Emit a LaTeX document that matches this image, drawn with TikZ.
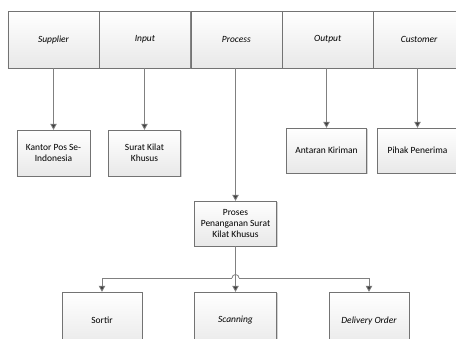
\documentclass[tikz,border=0pt]{standalone}
\usepackage{fontspec}
\setmainfont{Carlito}
\usetikzlibrary{arrows.meta, positioning, shadows}
\tikzset{
  head/.style={
    draw=black!55,
    rectangle,
    top color=white,
    bottom color=black!9,
    minimum height=57bp,
    minimum width=91bp,
    inner sep=0pt,
    align=center,
    font=\fontsize{9.5}{11}\selectfont\itshape
  },
  item/.style={
    draw=black!55,
    rectangle,
    top color=white,
    bottom color=black!9,
    drop shadow={shadow xshift=1bp, shadow yshift=-1bp, fill=black!35},
    minimum height=45bp,
    inner sep=0pt,
    align=center,
    font=\fontsize{9.5}{11.5}\selectfont
  },
  arrow/.style={
    -{Triangle[length=6bp,width=6.5bp,fill=black!75]}, draw=black!50, line width=0.8bp}
}
\begin{document}
\begin{tikzpicture}[x=1bp, y=1bp]
\useasboundingbox[fill=white] (0,0) rectangle (456,338);

% --- SIPOC header row ---
\node[head] (supplier) at (53.5,298.5) {Supplier};
\node[head, right=0pt of supplier] (input)    {Input};
\node[head, right=0pt of input]    (process)  {Process};
\node[head, right=0pt of process]  (output)   {Output};
\node[head, right=0pt of output]   (customer) {Customer};

% --- second row ---
\node[item, minimum width=73bp, minimum height=46bp] (kantor) at (53.5,185) {Kantor Pos Se-\\Indonesia};
\node[item, minimum width=72bp, minimum height=46bp] (surat)  at (144.5,185) {Surat Kilat\\Khusus};
\node[item, minimum width=80bp] (antaran) at (326.5,187.5) {Antaran Kiriman};
\node[item, minimum width=80bp] (pihak)   at (417.5,187.5) {Pihak Penerima};
\node[item, minimum width=82bp] (proses)  at (235.5,114.5) {Proses\\Penanganan Surat\\Kilat Khusus};

% --- process steps ---
\node[item, minimum width=80bp, minimum height=57bp] (sortir)   at (102,17.5) {Sortir};
\node[item, minimum width=82bp, minimum height=57bp] (scanning) at (235.5,17.5) {\itshape Scanning};
\node[item, minimum width=80bp, minimum height=57bp] (delivery) at (369,17.5) {\itshape Delivery Order};

\coordinate (branch) at (235.5,60);

% --- connectors ---
\draw[arrow] (kantor.north |- supplier.south)  -- (kantor.north);
\draw[arrow] (surat.north |- input.south)      -- (surat.north);
\draw[arrow] (proses.north |- process.south)   -- (proses.north);
\draw[arrow] (antaran.north |- output.south)   -- (antaran.north);
\draw[arrow] (pihak.north |- customer.south)   -- (pihak.north);
\draw[arrow] (proses.south) -- (scanning.north);
\draw[arrow] (branch) ++(-3.5,0) -- (sortir.north |- branch) -- (sortir.north);
\draw[arrow] (branch) ++(3.5,0) -- (delivery.north |- branch) -- (delivery.north);
\draw[draw=black!50, line width=0.8bp] (branch) ++(-3.5,0) arc (180:0:3.5);

\end{tikzpicture}
\end{document}
